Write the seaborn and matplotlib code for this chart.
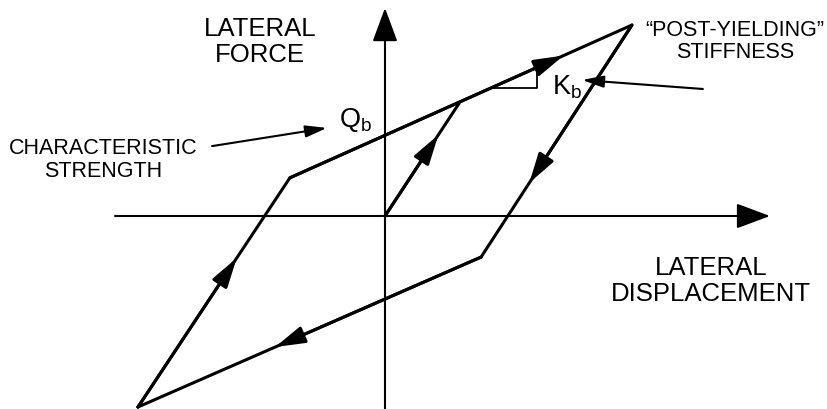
import matplotlib
matplotlib.use("Agg")
import matplotlib.pyplot as plt
import seaborn as sns

# bilinear hysteresis loop (normalised displacement / force)
loop_disp = [-1.0, -0.385, 1.0, 0.389, -1.0]
loop_force = [-1.0, 0.20, 1.0, -0.215, -1.0]
# initial loading branch from the origin up to the post-yield line
load_disp = [0.0, 0.30]
load_force = [0.0, 0.59]
# where the direction arrows sit along each branch (fraction of branch length)
branch_arrow_frac = [0.80, 0.68, 0.60, 0.65]   # upper, unloading, lower, reloading
load_arrow_frac = 0.72
# little slope triangle on the post-yield branch
kb_tri_disp = [0.425, 0.615]

sns.set_theme(style="white")
plt.rcParams['font.family'] = ['Liberation Sans', 'DejaVu Sans']
plt.rcParams['mathtext.fontset'] = 'custom'
plt.rcParams['mathtext.rm'] = 'Liberation Sans'

fig = plt.figure(figsize=(8.27, 4.09), dpi=100)
ax = fig.add_axes([0, 0, 1, 1])
ax.set_xlim(-1.5587, 1.7895)
ax.set_ylim(-1.0105, 1.1309)
ax.set_axis_off()

LW = 2.2

# coordinate axes with arrow heads
axis_style = dict(arrowstyle="-|>,head_length=21,head_width=7.8", mutation_scale=1,
                  lw=1.5, color="black", shrinkA=0, shrinkB=0)
ax.annotate("", xy=(1.559, 0.0), xytext=(-1.093, 0.0), arrowprops=axis_style)
ax.annotate("", xy=(0.0, 1.089), xytext=(0.0, -1.02), arrowprops=axis_style)

# loop and initial loading
sns.lineplot(x=loop_disp, y=loop_force, sort=False, estimator=None, color="black", lw=LW, ax=ax)
sns.lineplot(x=load_disp, y=load_force, sort=False, estimator=None, color="black", lw=LW, ax=ax)

head = dict(arrowstyle="-|>,head_length=18,head_width=5.2", mutation_scale=1,
            lw=LW, color="black", shrinkA=0, shrinkB=0)


def branch_arrow(x0, y0, x1, y1, frac):
    tx = x0 + frac * (x1 - x0)
    ty = y0 + frac * (y1 - y0)
    ax.annotate("", xy=(tx, ty), xytext=(x0, y0), arrowprops=head)


# branches: 1->2 upper, 2->3 unloading, 3->4 lower, 0->1 reloading
segs = [(1, 2), (2, 3), (3, 4), (0, 1)]
for (a, b), frac in zip(segs, branch_arrow_frac):
    branch_arrow(loop_disp[a], loop_force[a], loop_disp[b], loop_force[b], frac)
branch_arrow(load_disp[0], load_force[0], load_disp[1], load_force[1], load_arrow_frac)

# slope triangle K_b
slope = (loop_force[2] - loop_force[1]) / (loop_disp[2] - loop_disp[1])
tri_f = [loop_force[1] + slope * (d - loop_disp[1]) for d in kb_tri_disp]
ax.plot([kb_tri_disp[0], kb_tri_disp[1], kb_tri_disp[1]],
        [tri_f[0], tri_f[0], tri_f[1]], color="black", lw=1.3)

# labels
big, small = 18.5, 15.5
ax.text(-0.506, 0.911, "LATERAL\nFORCE", ha="center", va="center", fontsize=big,
        linespacing=1.15, color="black")
ax.text(1.32, -0.34, "LATERAL\nDISPLACEMENT", ha="center", va="center", fontsize=big,
        linespacing=1.1, color="black")
ax.text(-1.142, 0.293, "CHARACTERISTIC\nSTRENGTH", ha="center", va="center", fontsize=small,
        linespacing=1.1, color="black")
ax.text(1.417, 0.915, "\u201cPOST-YIELDING\u201d\nSTIFFNESS", ha="center", va="center",
        fontsize=small, linespacing=1.05, color="black")
ax.text(-0.12, 0.50, r"Q$_\mathrm{b}$", ha="center", va="center", fontsize=19.5, color="black")
ax.text(0.737, 0.675, r"K$_\mathrm{b}$", ha="center", va="center", fontsize=19.5, color="black")

thin = dict(arrowstyle="-|>,head_length=13,head_width=3.6", mutation_scale=1,
            lw=1.5, color="black", shrinkA=0, shrinkB=0)
ax.annotate("", xy=(-0.235, 0.461), xytext=(-0.70, 0.366), arrowprops=thin)
ax.annotate("", xy=(0.798, 0.712), xytext=(1.287, 0.665), arrowprops=thin)

fig.savefig("out.png", dpi=100, facecolor="white")
